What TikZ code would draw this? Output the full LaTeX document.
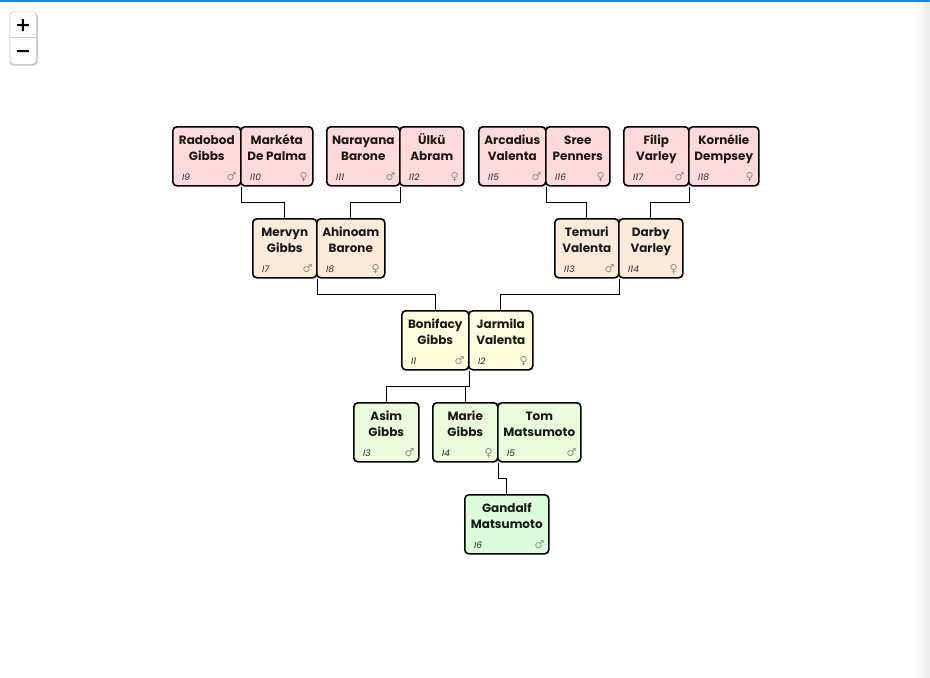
\documentclass[tikz,border=0pt]{standalone}
\usepackage{fontspec}
\setmainfont{Poppins}
\newfontfamily\symfont{DejaVu Sans}
\definecolor{cA}{HTML}{FFDADD}
\definecolor{cB}{HTML}{FDEBDA}
\definecolor{cC}{HTML}{FFFDDC}
\definecolor{cD}{HTML}{EAFCDB}
\definecolor{cE}{HTML}{DCFDDC}
\definecolor{topblue}{HTML}{1E88E5}
\tikzset{
  pbox/.style={draw=black, line width=1.6pt, rounded corners=4pt, minimum height=59pt, inner sep=0pt},
  nametext/.style={font=\fontsize{12}{16}\selectfont\bfseries, text=black!90, inner sep=0pt, anchor=base},
  idtext/.style={font=\fontsize{9}{10}\selectfont\itshape, text=black!85, inner sep=0pt},
  sextext/.style={font=\symfont\fontsize{11}{11}\selectfont, text=black!45, inner sep=0pt},
  link/.style={draw=black, line width=0.8pt},
  zoomglyph/.style={font=\symfont\fontsize{19}{19}\selectfont\bfseries, inner sep=0pt, anchor=base},
}
\newcommand\pp[9]{%
  \node[pbox, fill=#9, minimum width=#4pt, anchor=north west] (#1) at (#2,#3) {};
  \node[nametext] at ([yshift=-18pt]#1.north) {#5};
  \node[nametext] at ([yshift=-34pt]#1.north) {#6};
  \node[idtext, anchor=base west] at ([xshift=10pt,yshift=6pt]#1.south west) {#7};
  \node[sextext] at ([xshift=-10pt,yshift=9.5pt]#1.south east) {#8};
}
\begin{document}
\begin{tikzpicture}[x=1pt,y=-1pt]
\useasboundingbox (0,0) rectangle (930,678);
\fill[white] (0,0) rectangle (930,678);
\shade[left color=white, right color=black!8] (912,0) rectangle (930,678);
\fill[topblue] (0,0) rectangle (930,1.5);
% zoom control
\fill[black!25, rounded corners=4pt] (9.5,12) rectangle (37.5,65.5);
\node[draw=black!20, fill=white, rounded corners=4pt, minimum width=26pt, minimum height=53pt, anchor=north west, inner sep=0pt] (zoom) at (10,11) {};
\draw[black!20, line width=0.7pt] (zoom.west) -- (zoom.east);
\node[zoomglyph] (zplus) at (23,31) {+};
\node[zoomglyph] (zminus) at (23,57.5) {−};
% row 1
\pp{I9}{172}{126}{68}{Radobod}{Gibbs}{I9}{♂}{cA}
\pp{I10}{240}{126}{72}{Markéta}{De Palma}{I10}{♀}{cA}
\pp{I11}{326}{126}{73}{Narayana}{Barone}{I11}{♂}{cA}
\pp{I12}{399}{126}{64}{Ülkü}{Abram}{I12}{♀}{cA}
\pp{I15}{478}{126}{67}{Arcadius}{Valenta}{I15}{♂}{cA}
\pp{I16}{545}{126}{64}{Sree}{Penners}{I16}{♀}{cA}
\pp{I17}{623}{126}{65}{Filip}{Varley}{I17}{♂}{cA}
\pp{I18}{688}{126}{70}{Kornélie}{Dempsey}{I18}{♀}{cA}
% row 2
\pp{I7}{252}{218}{64}{Mervyn}{Gibbs}{I7}{♂}{cB}
\pp{I8}{316}{218}{68}{Ahinoam}{Barone}{I8}{♀}{cB}
\pp{I13}{554}{218}{64}{Temuri}{Valenta}{I13}{♂}{cB}
\pp{I14}{618}{218}{64}{Darby}{Varley}{I14}{♀}{cB}
% row 3
\pp{I1}{401}{310}{67}{Bonifacy}{Gibbs}{I1}{♂}{cC}
\pp{I2}{468}{310}{64}{Jarmila}{Valenta}{I2}{♀}{cC}
% row 4
\pp{I3}{353}{402}{65}{Asim}{Gibbs}{I3}{♂}{cD}
\pp{I4}{432}{402}{65}{Marie}{Gibbs}{I4}{♀}{cD}
\pp{I5}{497}{402}{83}{Tom}{Matsumoto}{I5}{♂}{cD}
% row 5
\pp{I6}{464}{494}{84}{Gandalf}{Matsumoto}{I6}{♂}{cE}
% links
\draw[link] (I9.south east) -- ++(0,16) -| (I7.north);
\draw[link] (I11.south east) -- ++(0,16) -| (I8.north);
\draw[link] (I15.south east) -- ++(0,16) -| (I13.north);
\draw[link] (I17.south east) -- ++(0,16) -| (I14.north);
\draw[link] (I7.south east) -- ++(0,16) -| (I1.north);
\draw[link] (I13.south east) -- ++(0,16) -| (I2.north);
\draw[link] (I1.south east) -- ++(0,16) coordinate (j1) -| (I3.north);
\draw[link] (j1) -| (I4.north);
\draw[link] (I4.south east) -- ++(0,16) -| (I6.north);
\end{tikzpicture}
\end{document}
